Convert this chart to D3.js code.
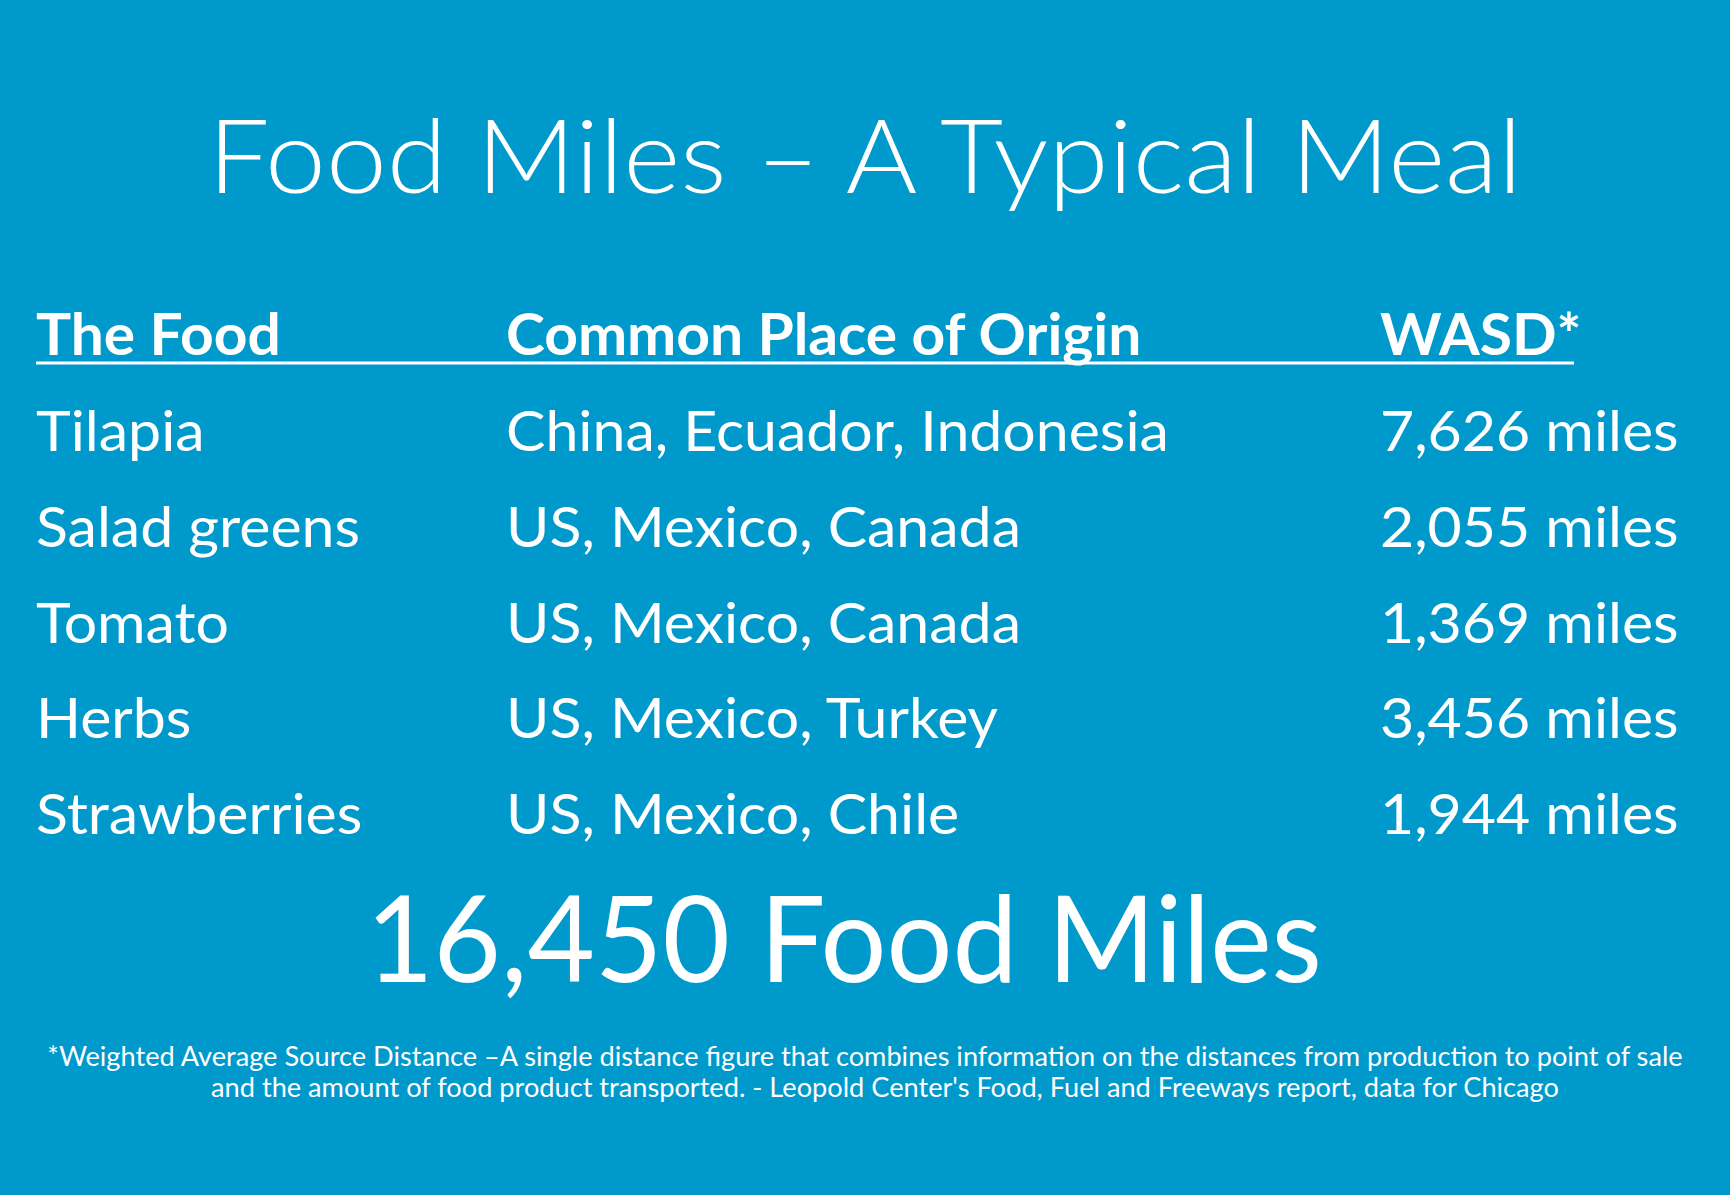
<!DOCTYPE html>
<html>
<head>
<meta charset="utf-8">
<script src="https://cdn.jsdelivr.net/npm/d3@7"></script>
<style>
	body { margin: 0; background: #0099cc; }
	svg text { font-family: Lato, "Open Sans", sans-serif; fill: #fff; }
</style>
</head>
<body>
<div id="plot"></div>
<script>
// Table contents
var headers = ["The Food", "Common Place of Origin", "WASD*"];
var foods = ["Tilapia", "Salad greens", "Tomato", "Herbs", "Strawberries"];
var origins = ["China, Ecuador, Indonesia", "US, Mexico, Canada", "US, Mexico, Canada", "US, Mexico, Turkey", "US, Mexico, Chile"];
var wasd = [7626, 2055, 1369, 3456, 1944];
var titleText = "Food Miles \u2013 A Typical Meal";
var footnote = [
	"*Weighted Average Source Distance \u2013A single distance figure that combines information on the distances from production to point of sale",
	"and the amount of food product transported. - Leopold Center's Food, Fuel and Freeways report, data for Chicago"
];

var width = 1730, height = 1195;

var svg = d3.select("#plot")
	.append("svg")
	.attr("width", width)
	.attr("height", height);

svg.append("rect")
	.attr("width", width)
	.attr("height", height)
	.attr("fill", "#0099cc");

// stretch / shrink text horizontally so it sits like the original Calibri
function stretch(sel, k) {
	sel.each(function() {
		var w = this.getComputedTextLength();
		d3.select(this).attr("textLength", w * k).attr("lengthAdjust", "spacingAndGlyphs");
	});
}

// Title
svg.append("text")
	.attr("x", width / 2)
	.attr("y", 193)
	.attr("text-anchor", "middle")
	.style("font-size", "103px")
	.style("font-weight", 300)
	.text(titleText)
	.call(stretch, 1.06);

// Columns and rows
var cols = ["food", "origin", "wasd"];
var x = d3.scaleOrdinal().domain(cols).range([36, 506, 1380]);
var y = d3.scalePoint().domain(foods).range([451, 834]);
var fmt = d3.format(",");

var rows = foods.map(function(f, i) {
	return {food: f, origin: origins[i], wasd: fmt(wasd[i]) + " miles"};
});

// Header
svg.append("g")
	.selectAll("text")
	.data(headers)
	.enter().append("text")
		.attr("x", function(d, i) { return x(cols[i]); })
		.attr("y", 355)
		.style("font-size", "57px")
		.style("font-weight", "bold")
		.text(function(d) { return d; })
		.call(stretch, 1.03);

svg.append("line")
	.attr("x1", x("food"))
	.attr("x2", 1574)
	.attr("y1", 363)
	.attr("y2", 363)
	.attr("stroke", "#fff")
	.attr("stroke-width", 3);

var row = svg.append("g")
	.selectAll("g")
	.data(rows)
	.enter().append("g")
		.attr("transform", function(d) { return "translate(0," + y(d.food) + ")"; });

row.selectAll("text")
	.data(function(d) { return cols.map(function(c) { return {key: c, value: d[c]}; }); })
	.enter().append("text")
		.attr("x", function(d) { return x(d.key); })
		.style("font-size", "57px")
		.text(function(d) { return d.value; })
		.call(stretch, 1.035);

// Total
svg.append("text")
	.attr("x", 844)
	.attr("y", 982)
	.attr("text-anchor", "middle")
	.style("font-size", "120px")
	.text(fmt(d3.sum(wasd)) + " Food Miles")
	.call(stretch, 0.97);

// Footnote
svg.append("g")
	.selectAll("text")
	.data(footnote)
	.enter().append("text")
		.attr("x", function(d, i) { return i === 0 ? 865 : 885; })
		.attr("y", function(d, i) { return 1066 + i * 31; })
		.attr("text-anchor", "middle")
		.style("font-size", "26px")
		.text(function(d) { return d; })
		.call(stretch, 1.045);
</script>
</body>
</html>
